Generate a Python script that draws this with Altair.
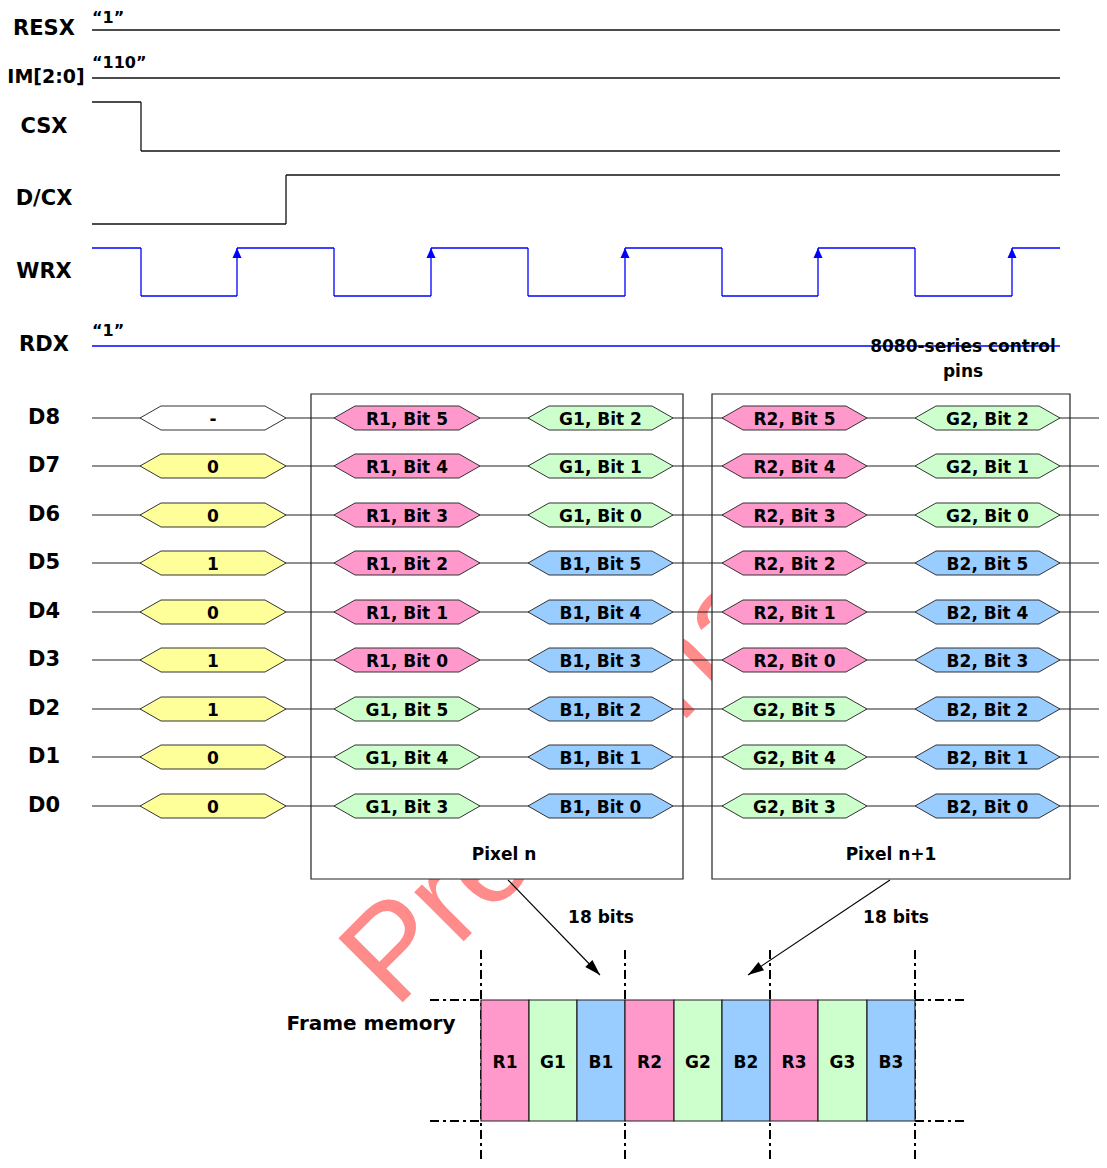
import altair as alt
import pandas as pd

# ---------------- data ----------------
signal_names = ["RESX", "CSX", "D/CX", "WRX", "RDX"]
signal_label_x = [44, 44, 44, 44, 44]
signal_label_y = [27, 125, 197, 270, 343]
im_label = "IM[2:0]"
im_label_x, im_label_y = 46, 75

bus_names = ["D8", "D7", "D6", "D5", "D4", "D3", "D2", "D1", "D0"]
bus_y = [418, 466, 515, 563, 612, 660, 709, 757, 806]

static_texts = ["\u201c1\u201d", "\u201c110\u201d", "\u201c1\u201d"]
static_x = [92, 92, 92]
static_y = [18, 63, 331]

resx_wave = [(92, 30), (1060, 30)]
im_wave = [(92, 78), (1060, 78)]
csx_wave = [(92, 102), (141, 102), (141, 151), (1060, 151)]
dcx_wave = [(92, 224), (286, 224), (286, 175), (1060, 175)]
rdx_wave = [(92, 346), (1060, 346)]
wrx_fall = [141, 334, 528, 722, 915]
wrx_rise = [237, 431, 625, 818, 1012]
wrx_high, wrx_low = 248, 296
wrx_start, wrx_end = 92, 1060

hex_left = [140, 334, 528, 722, 915]
hex_right = [286, 480, 673, 867, 1060]
bus_values = [
    ["-", "R1, Bit 5", "G1, Bit 2", "R2, Bit 5", "G2, Bit 2"],
    ["0", "R1, Bit 4", "G1, Bit 1", "R2, Bit 4", "G2, Bit 1"],
    ["0", "R1, Bit 3", "G1, Bit 0", "R2, Bit 3", "G2, Bit 0"],
    ["1", "R1, Bit 2", "B1, Bit 5", "R2, Bit 2", "B2, Bit 5"],
    ["0", "R1, Bit 1", "B1, Bit 4", "R2, Bit 1", "B2, Bit 4"],
    ["1", "R1, Bit 0", "B1, Bit 3", "R2, Bit 0", "B2, Bit 3"],
    ["1", "G1, Bit 5", "B1, Bit 2", "G2, Bit 5", "B2, Bit 2"],
    ["0", "G1, Bit 4", "B1, Bit 1", "G2, Bit 4", "B2, Bit 1"],
    ["0", "G1, Bit 3", "B1, Bit 0", "G2, Bit 3", "B2, Bit 0"],
]
color_map = {"R": "#FF99CC", "G": "#CCFFCC", "B": "#99CCFF", "-": "#FFFFFF"}
digit_color = "#FFFF99"

pixel_box_names = ["Pixel n", "Pixel n+1"]
pixel_box_x = [(311, 683), (712, 1070)]
pixel_box_y = (394, 879)
pixel_label_x = [504, 891]
pixel_label_y = 853

frame_cells = ["R1", "G1", "B1", "R2", "G2", "B2", "R3", "G3", "B3"]
frame_edges = [481, 529, 577, 625, 674, 722, 770, 818, 867, 915]
frame_y = (1000, 1121)
frame_dash_x = [481, 625, 770, 915]

arrow_from = [(508, 880), (890, 880)]
arrow_to = [(600, 975), (748, 975)]
arrow_angle = [135.9, 236.2]
arrow_labels = ["18 bits", "18 bits"]
arrow_label_x = [601, 896]
arrow_label_y = 916

# ---------------- helpers ----------------
W, H = 1091, 1152
XS = alt.Scale(domain=[8, 8 + W], nice=False, zero=False)
YS = alt.Scale(domain=[8, 8 + H], nice=False, zero=False, reverse=True)
DY = 2


def ex(f="x"):
    return alt.X(f"{f}:Q", scale=XS, axis=None)


def ey(f="y"):
    return alt.Y(f"{f}:Q", scale=YS, axis=None)


def segs(poly):
    return [dict(x=a[0], y=a[1], x2=b[0], y2=b[1]) for a, b in zip(poly[:-1], poly[1:])]


FONT = "DejaVu Sans"

# watermark
wm = alt.Chart(pd.DataFrame([dict(x=395, y=1010, t="Preliminary")])).mark_text(
    font="Liberation Sans", fontSize=132, align="left", baseline="alphabetic",
    angle=315, color="#FF0000", opacity=0.45
).encode(x=ex(), y=ey(), text="t:N")

# pixel boxes
box_df = pd.DataFrame([dict(x=a, x2=b, y=pixel_box_y[0], y2=pixel_box_y[1]) for a, b in pixel_box_x])
boxes = alt.Chart(box_df).mark_rect(fill="white", stroke="#222", strokeWidth=1.2).encode(
    x=ex(), x2="x2:Q", y=ey(), y2="y2:Q")

# dash-dot guides
dd = []
for xv in frame_dash_x:
    dd.append(dict(x=xv, y=950, x2=xv, y2=1168))
for yv in frame_y:
    dd.append(dict(x=430, y=yv, x2=frame_edges[0], y2=yv))
    dd.append(dict(x=frame_edges[-1], y=yv, x2=965, y2=yv))
dashes = alt.Chart(pd.DataFrame(dd)).mark_rule(color="black", strokeWidth=2, strokeDash=[9, 4, 3, 4]).encode(
    x=ex(), y=ey(), x2="x2:Q", y2="y2:Q")

# frame memory cells
cell_df = pd.DataFrame([
    dict(x=frame_edges[i], x2=frame_edges[i + 1], y=frame_y[0], y2=frame_y[1],
         t=c, fill=color_map[c[0]], cx=(frame_edges[i] + frame_edges[i + 1]) / 2, cy=1061)
    for i, c in enumerate(frame_cells)
])
cells = alt.Chart(cell_df).mark_rect(stroke="#222", strokeWidth=1.2, opacity=1).encode(
    x=ex(), x2="x2:Q", y=ey(), y2="y2:Q", fill=alt.Fill("fill:N", scale=None))
cell_text = alt.Chart(cell_df).mark_text(font=FONT, fontWeight="bold", fontSize=17, color="black",
                                         align="center", baseline="middle", dy=DY).encode(
    x=ex("cx"), y=ey("cy"), text="t:N")

# black control signals
black_rows = segs(resx_wave) + segs(im_wave) + segs(csx_wave) + segs(dcx_wave)
black_sig = alt.Chart(pd.DataFrame(black_rows)).mark_rule(color="#111", strokeWidth=1.3).encode(
    x=ex(), y=ey(), x2="x2:Q", y2="y2:Q")

# blue signals
wrx_poly = [(wrx_start, wrx_high)]
for f, r in zip(wrx_fall, wrx_rise):
    wrx_poly += [(f, wrx_high), (f, wrx_low), (r, wrx_low), (r, wrx_high)]
wrx_poly.append((wrx_end, wrx_high))
blue_rows = segs(wrx_poly) + segs(rdx_wave)
blue_sig = alt.Chart(pd.DataFrame(blue_rows)).mark_rule(color="#0000FF", strokeWidth=1.3).encode(
    x=ex(), y=ey(), x2="x2:Q", y2="y2:Q")
wrx_heads = alt.Chart(pd.DataFrame([dict(x=r, y=wrx_high) for r in wrx_rise])).mark_point(
    shape="M0,0L-0.9,2L0.9,2Z", filled=True, size=100, color="#0000FF", strokeWidth=0, opacity=1
).encode(x=ex(), y=ey())

# bus lines
bus_lines = alt.Chart(pd.DataFrame([dict(x=92, y=yv, x2=1107, y2=yv) for yv in bus_y])).mark_rule(
    color="#222", strokeWidth=1.1).encode(x=ex(), y=ey(), x2="x2:Q", y2="y2:Q")

# hexagons
hex_rows, hex_lab = [], []
HALF, TIP = 12, 21
for i, row in enumerate(bus_values):
    cy = bus_y[i]
    for j, v in enumerate(row):
        L, R = hex_left[j], hex_right[j]
        fill = color_map.get(v[0], digit_color)
        hid = f"{i}-{j}"
        for xv, h in [(L, 0), (L + TIP, HALF), (R - TIP, HALF), (R, 0)]:
            hex_rows.append(dict(id=hid, x=xv, yt=cy - h, yb=cy + h, fill=fill))
        hex_lab.append(dict(x=(L + R) / 2, y=cy, t=v))
hexes = alt.Chart(pd.DataFrame(hex_rows)).mark_area(
    stroke="#333", strokeWidth=1, opacity=1, interpolate="linear").encode(
    x=ex(), y=ey("yt"), y2="yb:Q", detail="id:N", fill=alt.Fill("fill:N", scale=None))
hex_text = alt.Chart(pd.DataFrame(hex_lab)).mark_text(
    font=FONT, fontWeight="bold", fontSize=17, color="black", align="center", baseline="middle", dy=DY
).encode(x=ex(), y=ey(), text="t:N")

# signal labels
sig_df = pd.DataFrame(
    [dict(x=signal_label_x[i], y=signal_label_y[i], t=n) for i, n in enumerate(signal_names)]
    + [dict(x=44, y=bus_y[i] - 2, t=n) for i, n in enumerate(bus_names)])
sig_text = alt.Chart(sig_df).mark_text(
    font=FONT, fontWeight="bold", fontSize=21, color="black", align="center", baseline="middle", dy=DY
).encode(x=ex(), y=ey(), text="t:N")
im_text = alt.Chart(pd.DataFrame([dict(x=im_label_x, y=im_label_y, t=im_label)])).mark_text(
    font=FONT, fontWeight="bold", fontSize=19, color="black", align="center", baseline="middle", dy=DY
).encode(x=ex(), y=ey(), text="t:N")

# static value texts
stat_df = pd.DataFrame([dict(x=static_x[i], y=static_y[i], t=t) for i, t in enumerate(static_texts)])
stat_text = alt.Chart(stat_df).mark_text(
    font=FONT, fontWeight="bold", fontSize=16, color="black", align="left", baseline="middle", dy=0
).encode(x=ex(), y=ey(), text="t:N")

# misc centered labels
misc_df = pd.DataFrame(
    [dict(x=963, y=345, t="8080-series control"), dict(x=963, y=370, t="pins")]
    + [dict(x=pixel_label_x[i], y=pixel_label_y, t=n) for i, n in enumerate(pixel_box_names)]
    + [dict(x=arrow_label_x[i], y=arrow_label_y, t=n) for i, n in enumerate(arrow_labels)])
misc_text = alt.Chart(misc_df).mark_text(
    font=FONT, fontWeight="bold", fontSize=17, color="black", align="center", baseline="middle", dy=DY
).encode(x=ex(), y=ey(), text="t:N")

frame_label = alt.Chart(pd.DataFrame([dict(x=371, y=1022, t="Frame memory")])).mark_text(
    font=FONT, fontWeight="bold", fontSize=20, color="black", align="center", baseline="middle", dy=DY
).encode(x=ex(), y=ey(), text="t:N")

# arrows
arr_df = pd.DataFrame([dict(x=a[0], y=a[1], x2=b[0], y2=b[1]) for a, b in zip(arrow_from, arrow_to)])
arr_lines = alt.Chart(arr_df).mark_rule(color="black", strokeWidth=1.1).encode(
    x=ex(), y=ey(), x2="x2:Q", y2="y2:Q")
head_df = pd.DataFrame([dict(x=b[0], y=b[1], a=arrow_angle[i]) for i, b in enumerate(arrow_to)])
arr_heads = alt.Chart(head_df).mark_point(
    shape="M0,0L-0.5,1.6L0.5,1.6Z", filled=True, size=400, color="black", strokeWidth=0, opacity=1
).encode(x=ex(), y=ey(), angle=alt.Angle("a:Q", scale=None))

chart = alt.layer(
    wm, boxes, dashes, cells, black_sig, blue_sig, bus_lines, hexes, hex_text,
    sig_text, im_text, stat_text, misc_text, frame_label, cell_text, arr_lines, arr_heads, wrx_heads
).properties(
    width=W, height=H, autosize=alt.AutoSizeParams(type="none"), padding=0,
    background="white"
).configure_view(stroke=None)

chart.save("out.html", embed_options={"renderer": "svg", "actions": False})
